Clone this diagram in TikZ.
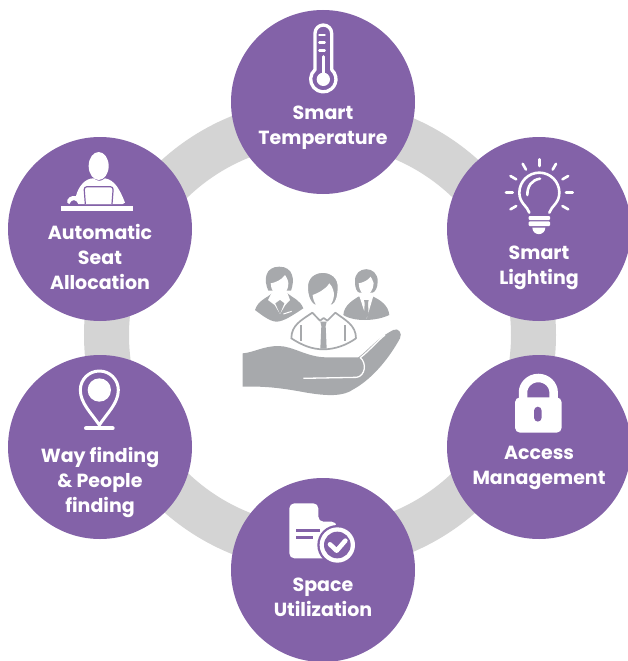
\documentclass[tikz,border=0pt]{standalone}
\usepackage{fontspec}
\setmainfont{Poppins}
\definecolor{hubpurple}{HTML}{8362A8}
\definecolor{ringgray}{HTML}{D4D4D4}
\definecolor{icongray}{HTML}{A7A9AC}
\tikzset{
  hub/.style={circle, fill=hubpurple, minimum size=184pt, inner sep=0pt},
  hublabel/.style={text=white, align=center, font=\fontsize{19}{25}\selectfont\bfseries},
  zoomed/.style={x=0.33333pt, y=-0.33333pt},
  wline/.style={draw=white, line width=#1, line cap=round, line join=round},
}
\begin{document}
\begin{tikzpicture}[x=1pt, y=-1pt]
  \useasboundingbox (0,0) rectangle (627,661);

  % Ring
  \node[circle, draw=ringgray, line width=45pt, minimum size=427pt, inner sep=0pt] (ring) at (320,335) {};

  % Hubs
  \node[hub] (temp)   at (323,102) {};
  \node[hub] (light)  at (539,229) {};
  \node[hub] (access) at (539,447) {};
  \node[hub] (space)  at (323,570) {};
  \node[hub] (way)    at (100,447) {};
  \node[hub] (seat)   at (100,229) {};

  % Labels
  \node[hublabel] (temp_l)   at (323,128) {Smart\\Temperature};
  \node[hublabel] (light_l)  at (539,268) {Smart\\Lighting};
  \node[hublabel] (access_l) at (539,468) {Access\\Management};
  \node[hublabel] (space_l)  at (323,597) {Space\\Utilization};
  \node[hublabel] (way_l)    at (100,482) {Way finding\\\& People\\finding};
  \node[hublabel] (seat_l)   at (100,257) {Automatic\\Seat\\Allocation};

  % Thermometer
  \begin{scope}[shift={(230,0)}, zoomed]
    \draw[wline=3.3pt] (305,209) -- (305,100) arc[start angle=360, end angle=180, radius=25] -- (255,209)
      arc[start angle=229, end angle=-49, radius=38];
    \fill[white] (280,238) circle (20);
    \draw[wline=3pt] (280,170) -- (280,238);
    \draw[wline=2.5pt] (268,105) -- (284,105) (268,128) -- (284,128) (268,152) -- (284,152);
  \end{scope}

  % Bulb
  \begin{scope}[shift={(450,140)}, zoomed]
    \draw[wline=2.6pt] (238,218) .. controls (232,198) and (208,190) .. (208,158)
      arc[start angle=180, end angle=360, radius=60]
      .. controls (328,190) and (304,198) .. (298,218);
    \draw[wline=2.6pt] (232,165) .. controls (232,138) and (245,120) .. (270,116);
    \foreach \a in {0,30,-30,-60,-90,-120,-150,180,150} {
      \draw[wline=2.6pt] (268,158) ++(\a:80) -- ++(\a:20);
    }
    \fill[white, rounded corners=1pt] (236,228) rectangle (300,240);
    \fill[white, rounded corners=1pt] (236,244) rectangle (300,258);
    \fill[white] (286,263) arc[start angle=0, end angle=180, radius=19.5] -- cycle;
  \end{scope}

  % Lock
  \begin{scope}[shift={(450,360)}, zoomed]
    \draw[draw=white, line width=8.5pt] (219,115) -- (219,98) arc[start angle=180, end angle=360, x radius=46, y radius=44] -- (311,115);
    \fill[white, rounded corners=5pt] (195,112) rectangle (335,218);
    \fill[hubpurple, rounded corners=4pt] (252,140) rectangle (275,185);
  \end{scope}

  % Document with check
  \begin{scope}[shift={(240,490)}, zoomed]
    \fill[white, rounded corners=5pt] (148,40) -- (235,40) -- (235,95) -- (290,95) -- (290,205) -- (148,205) -- cycle;
    \draw[draw=hubpurple, line width=2.5pt] (168,122) -- (240,122) (168,143) -- (220,143);
    \fill[hubpurple] (292,165) circle (60);
    \fill[white] (292,165) circle (53);
    \fill[hubpurple] (292,165) circle (40);
    \draw[wline=4.6pt] (270,163) -- (290,182) -- (316,152);
  \end{scope}

  % Pin
  \begin{scope}[shift={(10,350)}, zoomed]
    \draw[wline=3pt] (268,225) .. controls (245,190) and (211,160) .. (211,120)
      arc[start angle=180, end angle=360, radius=57]
      .. controls (325,160) and (291,190) .. (268,225);
    \fill[white] (268,120) circle (35);
    \draw[wline=4pt] (228,235) -- (308,235);
  \end{scope}

  % Person at laptop
  \begin{scope}[shift={(10,130)}, zoomed]
    \fill[white] (266,108) ellipse (30 and 42);
    \fill[white] (172,218) .. controls (168,205) and (185,195) .. (198,198)
      .. controls (205,170) and (225,145) .. (250,145)
      .. controls (265,155) and (272,155) .. (285,145)
      .. controls (315,150) and (330,180) .. (345,218) -- (338,222) -- (205,222)
      .. controls (200,208) and (185,205) .. (178,222) -- cycle;
    \draw[draw=hubpurple, fill=white, line width=1.2pt, rounded corners=3pt] (226,222) -- (222,170) -- (310,170) -- (306,222);
    \fill[white] (153,228) rectangle (370,243);
  \end{scope}

  % Centre figure
  \begin{scope}[shift={(230,250)}, zoomed]
    % woman
    \fill[icongray] (115,122) .. controls (100,90) and (105,50) .. (148,50)
      .. controls (190,50) and (195,90) .. (183,122) -- cycle;
    \fill[icongray] (75,180) .. controls (85,150) and (110,145) .. (128,128) -- (170,128)
      .. controls (190,145) and (210,150) .. (220,175)
      .. controls (190,195) and (160,215) .. (140,215)
      .. controls (120,215) and (95,195) .. (75,180) -- cycle;
    \fill[white] (130,118) -- (168,118) -- (180,150) -- (166,165) -- (150,192) -- (134,165) -- (114,150) -- cycle;
    \fill[icongray] (136,160) -- (150,150) -- (163,160) -- (150,192) -- cycle;
    \fill[white] (122,100) .. controls (135,98) and (155,90) .. (165,75)
      .. controls (172,85) and (175,95) .. (175,100)
      .. controls (175,125) and (160,135) .. (148,135)
      .. controls (135,135) and (122,120) .. (122,100) -- cycle;
    \draw[draw=white, line width=1pt] (160,192) -- (185,184);
    % man on the right
    \fill[icongray] (375,95) .. controls (372,45) and (445,45) .. (443,95)
      .. controls (443,115) and (435,125) .. (428,128) -- (388,128)
      .. controls (380,125) and (375,115) .. (375,95) -- cycle;
    \fill[icongray] (340,195) .. controls (342,165) and (370,150) .. (385,140) -- (430,140)
      .. controls (450,150) and (475,165) .. (478,195)
      .. controls (450,208) and (420,210) .. (405,210)
      .. controls (385,210) and (360,208) .. (340,195) -- cycle;
    \fill[white] (388,138) -- (430,138) -- (410,206) -- cycle;
    \fill[icongray] (402,150) -- (416,150) -- (414,160) -- (416,195) -- (409,204) -- (402,195) -- (404,160) -- cycle;
    \fill[white] (386,100) .. controls (400,98) and (415,90) .. (422,80)
      .. controls (428,90) and (431,100) .. (431,100)
      .. controls (430,120) and (418,135) .. (408,135)
      .. controls (396,135) and (387,120) .. (386,100) -- cycle;
    % man in the middle
    \draw[draw=white, line width=3.4pt, fill=white] (184,265) .. controls (184,225) and (215,210) .. (247,188)
      -- (316,188) .. controls (345,210) and (378,225) .. (378,265)
      .. controls (350,285) and (315,298) .. (280,298)
      .. controls (245,298) and (215,285) .. (184,265) -- cycle;
    \draw[draw=icongray, line width=1.7pt, line join=round] (184,265) .. controls (184,225) and (215,210) .. (247,188)
      -- (270,212) -- (281,204) -- (292,212) -- (316,188)
      .. controls (345,210) and (378,225) .. (378,265)
      .. controls (350,285) and (315,298) .. (280,298)
      .. controls (245,298) and (215,285) .. (184,265) -- cycle;
    \draw[draw=icongray, line width=1.7pt] (213,225) -- (213,272) (345,225) -- (345,272);
    \fill[icongray] (271,215) -- (290,215) -- (287,228) -- (290,296) -- (271,296) -- (274,228) -- cycle;
    \draw[draw=white, line width=1.5pt, fill=icongray] (232,115) .. controls (226,50) and (331,50) .. (325,115)
      .. controls (325,140) and (318,160) .. (308,165) -- (252,165)
      .. controls (242,160) and (232,140) .. (232,115) -- cycle;
    \fill[white] (248,135) .. controls (262,130) and (285,120) .. (298,100)
      .. controls (308,110) and (312,125) .. (312,135)
      .. controls (310,160) and (295,177) .. (280,177)
      .. controls (265,177) and (250,160) .. (248,135) -- cycle;
    % hand
    \fill[icongray] (38,310) .. controls (70,308) and (100,288) .. (145,288)
      .. controls (190,288) and (230,322) .. (290,322) -- (385,322)
      .. controls (410,305) and (440,265) .. (490,240)
      .. controls (505,232) and (518,250) .. (510,265)
      .. controls (480,320) and (430,385) .. (370,418)
      .. controls (340,440) and (290,438) .. (230,428)
      .. controls (160,415) and (110,408) .. (38,410) -- cycle;
    \draw[draw=white, line width=1.3pt] (220,385) -- (380,382) .. controls (405,378) and (412,340) .. (390,322)
      (392,322) .. controls (415,305) and (445,270) .. (465,255);
  \end{scope}

\end{tikzpicture}
\end{document}
